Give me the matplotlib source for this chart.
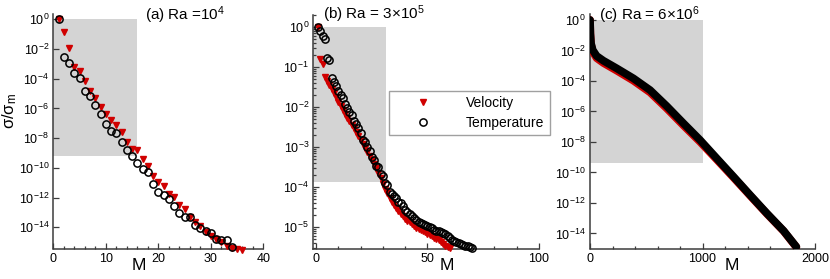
import numpy as np
import matplotlib
matplotlib.use('Agg')
import matplotlib.pyplot as plt
from matplotlib.ticker import FixedLocator, FuncFormatter, MultipleLocator, LogLocator, NullFormatter
from matplotlib.patches import Rectangle

plt.rcParams['font.family'] = ['Liberation Sans', 'DejaVu Sans']
plt.rcParams['mathtext.fontset'] = 'custom'
plt.rcParams['mathtext.rm'] = 'Liberation Sans'
plt.rcParams['mathtext.it'] = 'Liberation Sans:italic'
plt.rcParams['mathtext.bf'] = 'Liberation Sans:bold'
plt.rcParams['mathtext.sf'] = 'Liberation Sans'

# ---------------- data (log10 of sigma/sigma_m) ----------------
# (a) Ra = 1e4
a_M_temp = list(range(1, 35))
a_log_temp = [0, -2.57, -2.93, -3.6, -3.94, -4.82, -5.15, -5.74, -6.39, -7.02,
              -7.5, -7.65, -8.26, -8.82, -9.18, -9.66, -10.1, -10.26, -11.07, -11.59,
              -11.79, -12.11, -12.54, -13.05, -13.28, -13.32, -13.84, -14.07, -14.22, -14.4,
              -14.79, -14.83, -14.86, -15.35]
a_M_vel = list(range(1, 37))
a_log_vel = [0, -0.83, -1.91, -3.2, -3.47, -4.14, -4.82, -5.33, -5.9, -6.35,
             -6.8, -7.13, -7.58, -8.26, -8.71, -8.82, -9.39, -9.9, -10.51, -10.96,
             -11.19, -11.75, -11.97, -12.47, -12.76, -13.32, -13.66, -13.89, -14.34, -14.56,
             -14.79, -15.0, -15.24, -15.4, -15.48, -15.5]

# (b) Ra = 3e5
b_M_temp = list(range(1, 71))
b_log_temp = [0, -0.1, -0.22, -0.31, -0.79, -0.83, -1.27, -1.375, -1.48, -1.6,
              -1.71, -1.77, -1.92, -2.02, -2.125, -2.21, -2.35, -2.43, -2.54, -2.65,
              -2.83, -2.875, -3.0, -3.1, -3.25, -3.33, -3.475, -3.5, -3.67, -3.73,
              -3.9, -3.96, -4.125, -4.17, -4.22, -4.29, -4.375, -4.4, -4.48, -4.58,
              -4.625, -4.67, -4.73, -4.79, -4.83, -4.875, -4.9, -4.92, -4.95, -4.98,
              -5.0, -5.04, -5.08, -5.1, -5.1, -5.13, -5.16, -5.18, -5.23, -5.28,
              -5.33, -5.36, -5.38, -5.41, -5.43, -5.45, -5.47, -5.49, -5.51, -5.54]
b_M_vel = list(range(1, 61))
b_log_vel = [0, -0.8, -0.92, -1.25, -1.35, -1.45, -1.55, -1.66, -1.76, -1.88,
             -1.98, -2.08, -2.17, -2.27, -2.36, -2.45, -2.54, -2.64, -2.73, -2.83,
             -2.92, -3.02, -3.12, -3.22, -3.32, -3.42, -3.53, -3.65, -3.78, -3.92,
             -4.05, -4.15, -4.28, -4.38, -4.45, -4.52, -4.6, -4.67, -4.74, -4.8,
             -4.85, -4.89, -4.94, -4.98, -5.02, -5.05, -5.08, -5.11, -5.14, -5.17,
             -5.2, -5.23, -5.27, -5.3, -5.34, -5.38, -5.43, -5.47, -5.5, -5.54]

# (c) Ra = 6e6 (dense spectrum)
c_M = [0, 3, 9, 24, 59, 119, 237, 386, 534, 682, 831, 979, 1127, 1276, 1424, 1573, 1721, 1834]
c_log_temp = [0, -0.88, -1.53, -1.97, -2.36, -2.67, -3.17, -3.83, -4.6, -5.65,
              -6.78, -7.88, -9.08, -10.28, -11.49, -12.69, -13.83, -14.88]
c_log_vel = [0, -0.92, -1.6, -2.08, -2.5, -2.82, -3.32, -3.98, -4.75, -5.8,
             -6.92, -8.0, -9.16, -10.34, -11.53, -12.72, -13.85, -14.9]

titles = [r'(a) Ra =10$^{4}$', r'(b) Ra = 3×10$^{5}$', r'(c) Ra = 6×10$^{6}$']
legend_labels = ['Velocity', 'Temperature']

# shaded windows: (x0, x1, log_y0, log_y1)
a_window = (0, 16, -9.18, 0)
b_window = (-1.2, 31.5, -3.875, 0)
c_window = (0, 1000, -9.41, 0)

a_yticks = [0, -2, -4, -6, -8, -10, -12, -14]
b_yticks = [0, -1, -2, -3, -4, -5]
c_yticks = [0, -2, -4, -6, -8, -10, -12, -14]

# ---------------- figure ----------------
W, H = 830, 279
fig = plt.figure(figsize=(W / 100, H / 100), dpi=100)

top_px, bot_px = 14.5, 248.5
def add_axes(l_px, r_px):
    return fig.add_axes([l_px / W, 1 - bot_px / H, (r_px - l_px) / W, (bot_px - top_px) / H])

axA = add_axes(53.3, 263.3)
axB = add_axes(313.3, 539.0)
axC = add_axes(590.0, 815.0)

RED = '#d00000'
GRAY = '#d4d4d4'
SPINE = '#3c3c3c'

def p10(v):
    return [10.0 ** x for x in v]

fmt = FuncFormatter(lambda v, p: r'$10^{%d}$' % int(round(np.log10(v))))

def style(ax, xlim, ylog, xmaj, xmin, yt, yminor_log=False):
    ax.set_yscale('log')
    ax.set_xlim(*xlim)
    ax.set_ylim(10 ** ylog[0], 10 ** ylog[1])
    for s in ['top', 'right']:
        ax.spines[s].set_visible(False)
    for s in ['left', 'bottom']:
        ax.spines[s].set_color(SPINE)
        ax.spines[s].set_linewidth(1.1)
    ax.xaxis.set_major_locator(MultipleLocator(xmaj))
    ax.xaxis.set_minor_locator(MultipleLocator(xmin))
    ax.yaxis.set_major_locator(FixedLocator(p10(yt)))
    if yminor_log:
        ax.yaxis.set_minor_locator(LogLocator(base=10, subs=np.arange(2, 10), numticks=50))
    else:
        ax.yaxis.set_minor_locator(FixedLocator([]))
    ax.yaxis.set_major_formatter(fmt)
    ax.yaxis.set_minor_formatter(NullFormatter())
    ax.tick_params(which='both', direction='in', color=SPINE, width=0.9, labelsize=9,
                   labelcolor='black')
    ax.tick_params(which='major', length=4.5, pad=3)
    ax.tick_params(which='minor', length=2.5)
    ax.patch.set_alpha(0)

def window(ax, w):
    x0, x1, y0, y1 = w
    ax.add_patch(Rectangle((x0, 10 ** y0), x1 - x0, 10 ** y1 - 10 ** y0,
                           facecolor=GRAY, edgecolor='none', zorder=0))

# (a)
window(axA, a_window)
axA.plot(a_M_vel, p10(a_log_vel), linestyle='none', marker='v', ms=5, color=RED,
         mec=RED, clip_on=False, zorder=3)
axA.plot(a_M_temp, p10(a_log_temp), linestyle='none', marker='o', ms=5.2, mfc='none',
         mec='black', mew=1.1, clip_on=False, zorder=4)
style(axA, (0, 40), (-15.42, 0.32), 10, 2, a_yticks)

# (b)
window(axB, b_window)
hv, = axB.plot(b_M_vel, p10(b_log_vel), linestyle='none', marker='v', ms=5, color=RED,
               mec=RED, clip_on=False, zorder=3)
ht, = axB.plot(b_M_temp, p10(b_log_temp), linestyle='none', marker='o', ms=5.2, mfc='none',
               mec='black', mew=1.1, clip_on=False, zorder=4)
style(axB, (-1.2, 100), (-5.545, 0.305), 50, 10, b_yticks, yminor_log=True)

# (c)
window(axC, c_window)
axC.plot(c_M, p10(c_log_vel), color=RED, lw=5.6, solid_capstyle='round',
         solid_joinstyle='round', zorder=3)
axC.plot(c_M, p10(c_log_temp), color='black', lw=5.6, solid_capstyle='round',
         solid_joinstyle='round', zorder=4)
style(axC, (0, 2000), (-14.99, 0.36), 1000, 200, c_yticks)

# titles
axA.text(0.437, 0.995, titles[0], transform=axA.transAxes, fontsize=11, va='center', ha='left')
axB.text(0.043, 1.003, titles[1], transform=axB.transAxes, fontsize=11, va='center', ha='left')
axC.text(0.041, 0.998, titles[2], transform=axC.transAxes, fontsize=11, va='center', ha='left')

# axis labels
for ax, xf in [(axA, 0.405), (axB, 0.591), (axC, 0.63)]:
    ax.set_xlabel('M', fontsize=12.5)
    ax.xaxis.set_label_coords(xf, -0.04)
axA.set_ylabel(r'σ/σ$_{\mathrm{m}}$', fontsize=12)
axA.yaxis.set_label_coords(-0.165, 0.59)

# legend
leg = axB.legend([hv, ht], legend_labels, loc='upper left',
                 bbox_to_anchor=(389.3 / W, 1 - 90.7 / H), bbox_transform=fig.transFigure,
                 borderaxespad=0, fontsize=10, frameon=True, fancybox=False,
                 edgecolor='#a0a0a0', framealpha=1, borderpad=0.4, handlelength=4.1,
                 handletextpad=1.0, labelspacing=0.4, numpoints=1)
leg.get_frame().set_linewidth(1.0)

fig.savefig('out.png', dpi=100)
